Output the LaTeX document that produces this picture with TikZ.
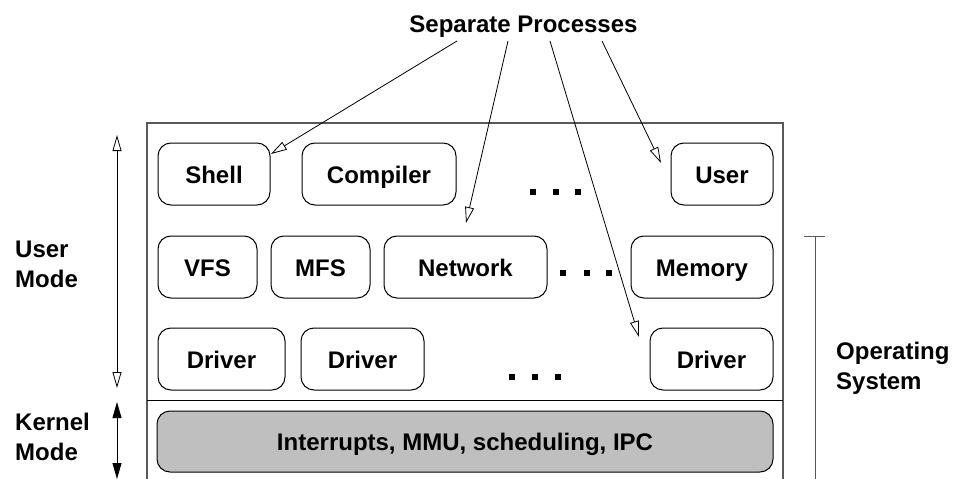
\documentclass[tikz,border=0pt]{standalone}
\usepackage{fontspec}
\setmainfont{Liberation Sans}
\usetikzlibrary{arrows.meta}
\definecolor{frame}{gray}{0.35}
\definecolor{kernelfill}{gray}{0.75}

\begin{document}
\begin{tikzpicture}[x=1pt, y=-1pt,
        font=\fontsize{24}{30}\selectfont\bfseries,
        proc/.style={draw, line width=1pt, rounded corners=13pt, minimum height=62pt, inner sep=0pt,
            text height=18pt, text depth=0pt},
        opentip/.style={-{Triangle[open, length=16pt, width=9pt]}, line width=0.8pt},
        lbl/.style={align=left, anchor=west, inner sep=0pt}]
        \useasboundingbox (0,0) rectangle (954,479);

        \draw[frame, line width=1.2pt] (147,479) -- (147,123) -- (783,123) -- (783,479);
        \draw[line width=1pt] (147,400) -- (783,400);

        \node[proc, minimum width=112pt] (shell) at (214,174) {Shell};
        \node[proc, minimum width=154pt] (compiler) at (379,174) {Compiler};
        \node[proc, minimum width=102pt] (user) at (722,174) {User};

        \node[proc, minimum width=99pt] (vfs) at (207.5,267) {VFS};
        \node[proc, minimum width=99pt] (mfs) at (320.5,267) {MFS};
        \node[proc, minimum width=163pt] (network) at (465.5,267) {Network};
        \node[proc, minimum width=142pt] (memory) at (702,267) {Memory};

        \node[proc, minimum width=127pt] (driverA) at (221.5,359) {Driver};
        \node[proc, minimum width=123pt] (driverB) at (362.5,359) {Driver};
        \node[proc, minimum width=123pt] (driverC) at (711.5,359) {Driver};

        \node[proc, fill=kernelfill, minimum width=616pt, minimum height=61pt] (kernel) at (465,441.5) {Interrupts, MMU, scheduling, IPC};

        \foreach \x/\y in {533/192, 556/192, 578/192, 563/273, 587/273, 609/273, 512/377, 535/377, 558/377}
            \fill (\x-3,\y-3) rectangle (\x+3,\y+3);

        \node[anchor=base, inner sep=0pt] (sep) at (523.5,32) {Separate Processes};
        \coordinate (fromshell) at (457,41);
        \coordinate (fromnet) at (508,41);
        \coordinate (fromdrv) at (550,41);
        \coordinate (fromuser) at (602,41);
        \coordinate (toshell) at (271,154);
        \coordinate (tonet) at (466,223);
        \coordinate (todrv) at (639,337);
        \coordinate (touser) at (661,163);
        \draw[opentip] (fromshell) -- (toshell);
        \draw[opentip] (fromnet) -- (tonet);
        \draw[opentip] (fromdrv) -- (todrv);
        \draw[opentip] (fromuser) -- (touser);

        \node[lbl] (usermode) at (15,264) {User\\Mode};
        \node[lbl] (kernelmode) at (15,437) {Kernel\\Mode};
        \node[lbl] (opsys) at (836,368) {Operating\\System};

        \coordinate (umtop) at (117,135);
        \coordinate (umbot) at (117,388);
        \coordinate (kmtop) at (117,402);
        \coordinate (kmbot) at (117,479);
        \draw[{Triangle[open, length=16pt, width=9pt]}-{Triangle[open, length=16pt, width=9pt]}, line width=0.8pt] (umtop) -- (umbot);
        \draw[{Triangle[length=16pt, width=9pt]}-{Triangle[length=16pt, width=9pt]}, line width=0.8pt] (kmtop) -- (kmbot);

        \coordinate (ostop) at (815,236);
        \coordinate (osbot) at (815,479);
        \draw[frame, line width=1pt] (804,236) -- (825,236);
        \draw[frame, line width=1pt] (ostop) -- (osbot);
\end{tikzpicture}
\end{document}
